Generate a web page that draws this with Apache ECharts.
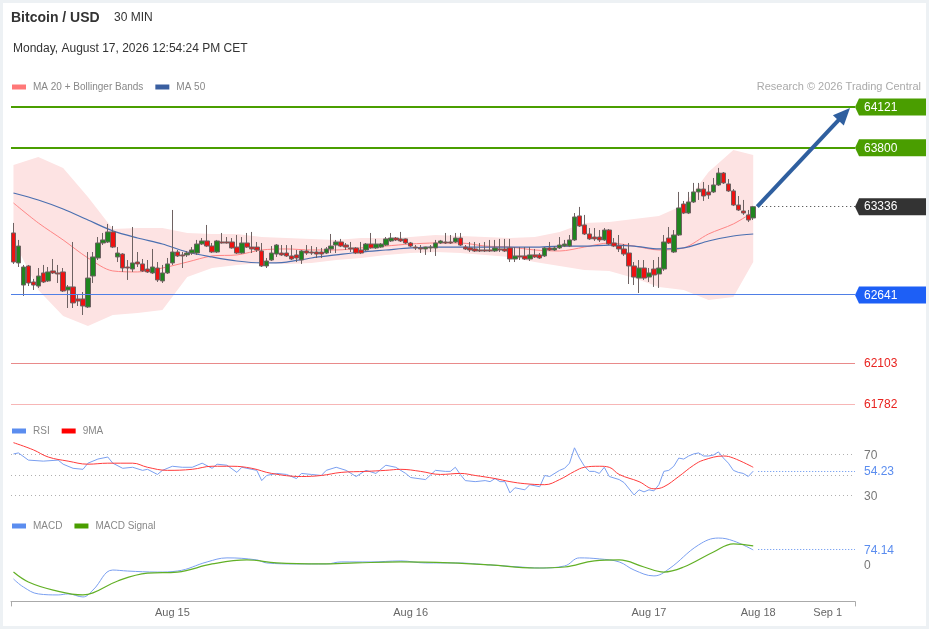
<!DOCTYPE html>
<html><head><meta charset="utf-8">
<script src="https://cdn.jsdelivr.net/npm/echarts@6/dist/echarts.min.js"></script>
<style>
html,body{margin:0;padding:0;background:#fff;}
#chart{width:929px;height:629px;box-shadow:inset 0 0 0 3px #edf1f4;}
</style></head><body><div id="chart"></div>
<script>
// ---------- DATA ----------
// candles: [open, close, low, high], 30-minute bars
const candles = [
[63129,62900,62885,63208],[62893,63026,62861,63074],[62719,62861,62633,62877],[62869,62735,62711,62877],[62743,62719,62680,62767],
[62711,62790,62696,62853],[62814,62743,62735,62877],[62751,62822,62743,62861],[62830,62814,62806,62924],[62814,62806,62735,62877],
[62822,62672,62664,62853],[62680,62704,62538,62719],[62704,62578,62538,63058],[62609,62593,62554,62648],[62609,62554,62483,62664],
[62546,62774,62538,62979],[62790,62940,62735,62979],[62932,63050,62916,63097],[63050,63074,63034,63129],[63058,63137,63050,63200],
[63137,63018,63010,63184],[62940,62971,62900,63018],[62963,62853,62822,62970],[62861,62853,62759,62916],[62845,62893,62822,63176],
[62900,62885,62861,62979],[62885,62830,62822,62924],[62845,62822,62814,62916],[62814,62861,62806,63003],[62853,62759,62743,62900],
[62751,62814,62735,62877],[62814,62885,62806,62932],[62893,62979,62877,63310],[62979,62948,62940,62995],[62956,62948,62853,62979],
[62956,62971,62940,62987],[62971,62995,62956,63018],[62971,63042,62956,63074],[63042,63066,63034,63089],[63066,63026,63018,63192],
[63026,62979,62971,63050],[62979,63066,62971,63074],[63058,63050,63045,63129],[63058,63050,63045,63097],[63058,63011,63005,63089],
[63018,62971,62963,63113],[62971,63050,62965,63097],[63050,63018,63011,63129],[63018,63003,62971,63137],[63018,62995,62979,63058],
[62987,62869,62861,63050],[62869,62908,62853,62932],[62916,62971,62908,63026],[62963,63034,62940,63042],[62971,62956,62948,63034],
[62971,62948,62940,63034],[62948,62924,62916,63034],[62956,62932,62900,62995],[62916,62987,62885,62995],[62987,62971,62956,63034],
[62979,62971,62956,63026],[62979,62963,62932,63018],[62979,62963,62932,63011],[62971,63003,62963,63018],[63003,63026,62971,63121],
[63034,63058,62971,63074],[63058,63026,63018,63082],[63034,63018,62995,63050],[63011,63003,62979,63058],[63011,62971,62963,63018],
[62995,62971,62963,63058],[62995,63042,62987,63050],[63042,63011,63005,63129],[63011,63042,63003,63082],[63018,63042,63011,63050],
[63034,63082,63026,63097],[63066,63089,63058,63129],[63089,63074,63066,63097],[63082,63066,63058,63137],[63082,63050,63042,63085],
[63050,63026,63018,63058],[63018,63011,62995,63034],[63011,63003,62971,63034],[63003,63018,62956,63020],[63011,63018,62979,63034],
[63011,63050,62948,63074],[63050,63066,63042,63074],[63058,63050,63042,63129],[63058,63050,63042,63113],[63058,63089,63050,63129],
[63089,63034,63026,63129],[63018,63003,62995,63034],[63011,62995,62979,63058],[63003,62987,62979,63058],[62995,62987,62979,63050],
[62995,62987,62979,63058],[62995,62987,62979,63074],[62987,63011,62979,63074],[63003,62995,62979,63082],[63003,62987,62979,63082],
[63011,62924,62900,63082],[62924,62948,62900,63018],[62948,62940,62916,63018],[62948,62924,62916,63018],[62924,62956,62908,63018],
[62956,62940,62932,63003],[62956,62932,62924,62971],[62948,63011,62940,63018],[63011,62995,62987,63058],[62995,63011,62987,63026],
[63011,63034,63003,63097],[63026,63042,63018,63074],[63026,63074,63018,63113],[63074,63255,63066,63286],[63263,63184,63176,63334],
[63192,63121,63113,63271],[63121,63082,63074,63168],[63097,63082,63066,63168],[63097,63074,63058,63152],[63074,63152,63066,63168],
[63152,63042,63034,63160],[63050,63026,63018,63089],[63026,63003,62979,63113],[63003,62963,62948,63042],[62971,62869,62727,63050],
[62869,62782,62719,62900],[62774,62853,62656,62916],[62853,62774,62759,62916],[62782,62814,62743,62853],[62845,62798,62704,62916],
[62806,62853,62696,62940],[62845,63058,62830,63113],[63089,63050,63042,63176],[62979,63113,62971,63152],[63113,63326,63105,63452],
[63357,63286,63278,63381],[63286,63373,63278,63452],[63373,63452,63365,63523],[63452,63475,63389,63523],[63475,63420,63381,63530],
[63452,63428,63397,63507],[63452,63507,63444,63562],[63507,63601,63499,63641],[63601,63523,63515,63609],[63515,63460,63452,63554],
[63460,63349,63341,63475],[63349,63310,63302,63420],[63302,63286,63271,63389],[63271,63231,63215,63310],[63247,63336,63231,63342]
];
// indicator samples (bar index of each sample)
const bandIndex = [0,5,10,15,20,25,30,35,40,45,50,55,60,65,70,75,80,85,90,95,100,105,110,115,120,125,130,135,140,145,149];
const ma20 = [63365,63208,63074,62932,62830,62822,62853,62900,62948,62956,62995,63003,62995,62995,63011,63026,63042,63050,63050,63026,63018,62995,62987,63018,63050,63026,62995,63011,63121,63200,63294];
const ma50 = [63444,63389,63318,63231,63145,63089,63042,62979,62940,62908,62893,62900,62932,62956,62979,62995,63011,63018,63018,63018,63018,63018,63026,63026,63034,63026,63003,63011,63066,63105,63121];
const bbUpper = [63664,63727,63641,63412,63160,63168,63168,63129,63121,63121,63097,63089,63082,63074,63089,63089,63097,63113,63105,63097,63089,63097,63137,63208,63215,63239,63263,63349,63610,63782,63743];
const bbLower = [63074,62680,62475,62396,62483,62499,62522,62782,62853,62877,62893,62885,62893,62916,62932,62956,62971,62979,62971,62956,62940,62900,62869,62837,62830,62774,62704,62680,62601,62625,62900];
// RSI and its 9-period MA: [bar index, value]
const rsi = [[0,71],[1,72],[3,65],[6,64],[9,65],[10,61],[12,57],[14,56],[15,62],[17,66],[19,68],[20,62],[22,57],[24,58],[26,55],[27,56],[29,51],[30,55],[32,59],[34,58],[36,58],[38,62],[40,57],[41,61],[43,60],[45,53],[46,58],[49,55],[50,45],[51,50],[53,52],[55,51],[57,47],[58,52],[60,51],[62,50],[63,55],[65,58],[67,55],[69,49],[71,55],[73,52],[75,60],[77,58],[79,52],[80,48],[83,46],[85,55],[87,54],[88,54],[89,58],[90,51],[91,45],[93,44],[95,45],[96,44],[97,47],[98,44],[99,44],[100,33],[101,38],[103,36],[104,41],[106,39],[107,50],[108,49],[110,55],[111,57],[112,62],[113,77],[114,67],[115,59],[116,54],[117,54],[118,52],[119,58],[120,49],[122,46],[123,43],[125,31],[126,36],[127,34],[128,36],[129,35],[130,41],[131,54],[132,55],[133,59],[134,67],[135,66],[136,69],[137,71],[138,72],[139,69],[140,69],[141,70],[142,73],[143,67],[144,62],[145,55],[146,53],[147,52],[148,49],[149,54.23]];
const rsiMa = [[0,82],[4,75],[7,68],[11,64],[15,61],[19,62],[24,62],[27,58],[31,55],[36,56],[40,59],[44,59],[48,57],[52,52],[58,49],[62,50],[66,53],[71,54],[75,55],[78,56],[82,54],[86,51],[90,52],[93,50],[97,47],[100,44],[103,42],[107,41],[110,46],[113,54],[115,58],[118,59],[120,58],[122,51],[126,44],[129,37],[131,39],[134,49],[137,60],[139,65],[143,69],[145,67],[149,58]];
// MACD and signal: [bar index, value]
const macd = [[0,-69],[2,-109],[5,-143],[9,-148],[11,-143],[14,-158],[16,-124],[20,-25],[23,-30],[29,-35],[33,-30],[39,15],[43,35],[49,25],[51,10],[57,5],[63,5],[66,15],[72,15],[78,20],[83,10],[89,10],[96,0],[102,-10],[106,-15],[111,-5],[114,35],[118,30],[122,15],[125,-25],[129,-54],[132,-20],[138,99],[142,133],[145,119],[149,74.14]];
const macdSignal = [[0,-35],[3,-84],[8,-124],[14,-148],[16,-138],[21,-79],[27,-40],[33,-35],[40,5],[47,25],[53,10],[62,5],[69,10],[78,15],[88,10],[96,0],[105,-15],[111,-10],[117,20],[122,25],[127,-10],[131,-35],[135,-10],[141,64],[145,104],[149,94]];
// key levels
const levelValues = [64121, 63800, 63336, 62641, 62103, 61782];
const rsiLevels = [70, 50, 30];
const rsiLast = [54.23];
const macdLevels = [0, 74.14];
// time axis
const slotCount = 170;
const tickIndex = [32, 80, 128, 150, 164];
const tickLabels = ['Aug 15', 'Aug 16', 'Aug 17', 'Aug 18', 'Sep 1'];

// ---------- CHART ----------
const FONT = "'Liberation Sans', Arial, sans-serif";
const categories = Array.from({length: slotCount}, (_, i) => String(i));
const lastIdx = candles.length - 1;
const lastClose = candles[lastIdx][1];
const pair = (idx, vals) => idx.map((i, k) => [i, vals[k]]);

const G = {left: 11, right: 74};
const grids = [
  {left: G.left, right: G.right, top: 90.62, height: 330.15},
  {left: G.left, right: G.right, top: 439.6, height: 71.75},
  {left: G.left, right: G.right, top: 534.6, height: 66.8}
];

function hlines(axis, values, styles, z) {
  return {
    type: 'custom', xAxisIndex: axis, yAxisIndex: axis, z: z || 5, silent: true, clip: false,
    data: values.map(v => [0, v]), encode: {x: 0, y: 1},
    renderItem: (params, api) => {
      const st = styles[params.dataIndex];
      const cs = params.coordSys;
      const v = api.value(1);
      const y = api.coord([0, v])[1];
      const right = cs.x + cs.width;
      const kids = [];
      if (st.line) {
        const w = st.w || 1;
        const yy = (w % 2 === 1) ? Math.round(y - 0.5) + 0.5 : Math.round(y);
        const x1 = st.from != null ? api.coord([st.from, v])[0] + 5 : cs.x;
        kids.push({type: 'line', shape: {x1: x1, y1: yy, x2: right, y2: yy},
          style: {stroke: st.line, lineWidth: w, lineDash: st.dash || null}});
      }
      if (st.flag) {
        kids.push({type: 'polygon', shape: {points: [[right, y], [right + 4, y - 8.5], [right + 71, y - 8.5], [right + 71, y + 8.5], [right + 4, y + 8.5]]},
          style: {fill: st.flag}});
      }
      if (st.txt) {
        kids.push({type: 'text', style: {text: String(v), x: right + 9, y: y + 0.5, fill: st.txt,
          font: '12px ' + FONT, verticalAlign: 'middle', align: 'left'}});
      }
      return {type: 'group', children: kids};
    }
  };
}

const levelStyles = [
  {line: '#4a9e00', w: 2, flag: '#4a9e00', txt: '#fff'},
  {line: '#4a9e00', w: 2, flag: '#4a9e00', txt: '#fff'},
  {line: '#333', w: 1, dash: [1, 3], from: lastIdx, flag: '#333', txt: '#fff'},
  {line: '#4f7fe6', w: 1, flag: '#1d5ff6', txt: '#fff'},
  {line: '#e98a8a', w: 1, txt: '#e8231f'},
  {line: '#f7b6b6', w: 1, txt: '#e8231f'}
];
const rsiStyles = [
  {line: '#b0b0b0', w: 1, dash: [1, 3], txt: '#777'},
  {line: '#b0b0b0', w: 1, dash: [1, 3]},
  {line: '#b0b0b0', w: 1, dash: [1, 3], txt: '#777'}
];
const macdStyles = [
  {txt: '#777'},
  {line: '#5b8def', w: 1, dash: [1, 2], from: lastIdx, txt: '#5b8def'}
];

const legendBase = {left: 7, icon: 'rect', itemWidth: 14, itemHeight: 5, itemGap: 12, selectedMode: false,
  textStyle: {color: '#888', fontSize: 10, padding: [0, 0, 0, 2]}};

const option = {
  animation: false,
  backgroundColor: 'transparent',
  textStyle: {fontFamily: FONT},
  graphic: [
    {type: 'text', x: 11, y: 18, style: {text: 'Bitcoin / USD', font: 'bold 14px ' + FONT, fill: '#333', verticalAlign: 'middle'}},
    {type: 'text', x: 114, y: 18, style: {text: '30 MIN', font: '12px ' + FONT, fill: '#333', verticalAlign: 'middle'}},
    {type: 'text', x: 13, y: 48.5, style: {text: 'Monday, August 17, 2026 12:54:24 PM CET', font: '12px ' + FONT, fill: '#333', verticalAlign: 'middle'}},
    {type: 'text', x: 921, y: 86.5, style: {text: 'Research © 2026 Trading Central', font: '11px ' + FONT, fill: '#aaa', verticalAlign: 'middle', align: 'right'}}
  ],
  legend: [
    Object.assign({}, legendBase, {top: 77,
      data: [{name: 'MA 20 + Bollinger Bands', itemStyle: {color: '#ff7878'}}, {name: 'MA 50', itemStyle: {color: '#3a5fa0'}}]}),
    Object.assign({}, legendBase, {top: 421,
      data: [{name: 'RSI', itemStyle: {color: '#5b8def'}}, {name: '9MA', itemStyle: {color: '#f00'}}]}),
    Object.assign({}, legendBase, {top: 516,
      data: [{name: 'MACD', itemStyle: {color: '#5b8def'}}, {name: 'MACD Signal', itemStyle: {color: '#4a9e00'}}]})
  ],
  grid: grids,
  xAxis: [0, 1, 2].map(g => ({
    type: 'category', gridIndex: g, data: categories, boundaryGap: true, show: g === 2, position: 'bottom',
    axisLine: {show: true, onZero: false, lineStyle: {color: '#aaa'}},
    axisTick: {show: true, interval: (i) => i === 0, length: 5, lineStyle: {color: '#aaa'}},
    axisLabel: {
      interval: (i) => tickIndex.indexOf(i) >= 0,
      formatter: (val, i) => { const k = tickIndex.indexOf(Number(val)); return k >= 0 ? tickLabels[k] : ''; },
      color: '#666', fontSize: 11, margin: 6
    },
    splitLine: {show: false}
  })),
  yAxis: [
    {type: 'value', gridIndex: 0, min: 61650, max: 64250, show: false, splitLine: {show: false}},
    {type: 'value', gridIndex: 1, min: 15, max: 85, show: false, splitLine: {show: false}},
    {type: 'value', gridIndex: 2, min: -180, max: 150, show: false, splitLine: {show: false}}
  ],
  series: [
    {
      type: 'custom', name: 'band', xAxisIndex: 0, yAxisIndex: 0, z: 1, silent: true,
      data: bandIndex.map((i, k) => [i, bbUpper[k], bbLower[k]]), encode: {x: 0, y: [1, 2]},
      renderItem: (params, api) => {
        if (params.dataIndex !== 0) return null;
        const pts = [];
        for (let k = 0; k < bandIndex.length; k++) pts.push(api.coord([bandIndex[k], bbUpper[k]]));
        for (let k = bandIndex.length - 1; k >= 0; k--) pts.push(api.coord([bandIndex[k], bbLower[k]]));
        return {type: 'polygon', shape: {points: pts}, style: {fill: '#fde3e3'}};
      }
    },
    {type: 'line', name: 'MA 20 + Bollinger Bands', xAxisIndex: 0, yAxisIndex: 0, z: 3, data: pair(bandIndex, ma20),
      smooth: 0.3, showSymbol: false, lineStyle: {color: '#ff8585', width: 1}, itemStyle: {color: '#ff7878'}},
    {type: 'line', name: 'MA 50', xAxisIndex: 0, yAxisIndex: 0, z: 3, data: pair(bandIndex, ma50),
      smooth: 0.3, showSymbol: false, lineStyle: {color: '#4a6fb0', width: 1.2}, itemStyle: {color: '#3a5fa0'}},
    {type: 'candlestick', name: 'BTC', xAxisIndex: 0, yAxisIndex: 0, z: 4, data: candles, barWidth: 5,
      itemStyle: {color: '#1f851f', color0: '#ee1111', borderColor: '#6e6262', borderColor0: '#6e6262', borderColorDoji: '#6e6262', borderWidth: 1}},
    hlines(0, levelValues, levelStyles, 5),
    {
      type: 'custom', name: 'arrow', xAxisIndex: 0, yAxisIndex: 0, z: 6, silent: true, clip: false,
      data: [[lastIdx, lastClose, levelValues[0]]], encode: {x: 0, y: [1, 2]},
      renderItem: (params, api) => {
        const cs = params.coordSys;
        const s = api.coord([api.value(0), api.value(1)]);
        const sx = s[0] + 4, sy = s[1];
        const tx = cs.x + cs.width - 5, ty = api.coord([0, api.value(2)])[1] + 1;
        const dx = tx - sx, dy = ty - sy, len = Math.sqrt(dx * dx + dy * dy);
        const ux = dx / len, uy = dy / len;
        const hl = 17, hw = 7.5;
        const bx = tx - ux * hl, by = ty - uy * hl;
        return {type: 'group', children: [
          {type: 'line', shape: {x1: sx, y1: sy, x2: bx + ux * 2, y2: by + uy * 2}, style: {stroke: '#2f5f9f', lineWidth: 4}},
          {type: 'polygon', shape: {points: [[tx, ty], [bx - uy * hw, by + ux * hw], [bx + uy * hw, by - ux * hw]]}, style: {fill: '#2f5f9f'}}
        ]};
      }
    },
    hlines(1, rsiLevels, rsiStyles, 2),
    {type: 'line', name: 'RSI', xAxisIndex: 1, yAxisIndex: 1, z: 3, data: rsi, showSymbol: false,
      lineStyle: {color: '#7a9ff0', width: 1}, itemStyle: {color: '#5b8def'}},
    {type: 'line', name: '9MA', xAxisIndex: 1, yAxisIndex: 1, z: 3, data: rsiMa, smooth: 0.4, showSymbol: false,
      lineStyle: {color: '#ff3b3b', width: 1}, itemStyle: {color: '#f00'}},
    hlines(1, rsiLast, [{line: '#5b8def', w: 1, dash: [1, 2], from: lastIdx, txt: '#5b8def'}], 4),
    {type: 'line', name: 'MACD', xAxisIndex: 2, yAxisIndex: 2, z: 3, data: macd, smooth: 0.4, showSymbol: false,
      lineStyle: {color: '#7a9ff0', width: 1}, itemStyle: {color: '#5b8def'}},
    {type: 'line', name: 'MACD Signal', xAxisIndex: 2, yAxisIndex: 2, z: 3, data: macdSignal, smooth: 0.4, showSymbol: false,
      lineStyle: {color: '#62b026', width: 1.2}, itemStyle: {color: '#4a9e00'}},
    hlines(2, macdLevels, macdStyles, 4)
  ]
};

const chart = echarts.init(document.getElementById('chart'), null, {renderer: 'canvas'});
chart.setOption(option);
</script>
</body></html>
